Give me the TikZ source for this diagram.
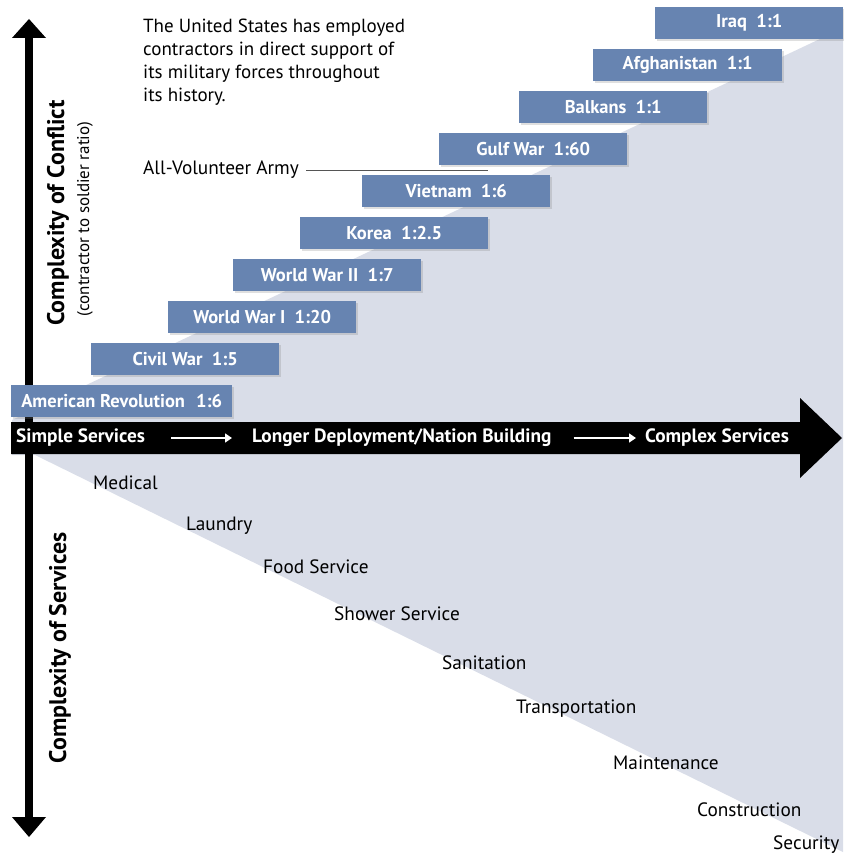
\documentclass[tikz,border=0pt]{standalone}
\usepackage{fontspec}
\setmainfont{PT Sans}
\usetikzlibrary{arrows.meta,shadows}
\definecolor{eraBlue}{HTML}{6784B1}
\definecolor{bgShade}{HTML}{D9DDE8}
\definecolor{leaderGray}{HTML}{555555}

\begin{document}
\begin{tikzpicture}[x=1pt,y=-1pt,
  era/.style={fill=eraBlue, text=white, anchor=north west,
    font=\fontsize{18.5}{20}\selectfont\bfseries,
    minimum height=32pt, minimum width=188pt, inner sep=0pt,
    drop shadow={shadow xshift=1.5pt, shadow yshift=-1.5pt, opacity=0.25}},
  bandtext/.style={text=white, font=\fontsize{19.3}{22}\selectfont\bfseries, inner sep=0pt},
  service/.style={anchor=west, inner sep=0pt, font=\fontsize{19.3}{22}\selectfont},
  axislabel/.style={rotate=90, inner sep=0pt, font=\fontsize{24}{27}\selectfont\bfseries},
  flow/.style={draw=white, line width=1.6pt, -{Triangle[length=7pt,width=9pt]}}
]
% canvas
\useasboundingbox (0,0) rectangle (843,858);

% shaded field behind the timeline and the services
\fill[bgShade] (12,420) -- (822,38) -- (843,38) -- (843,852) -- (35,455) -- (12,455) -- cycle;

% vertical axis with heads at both ends
\coordinate (vtop) at (29,19);
\coordinate (vbot) at (29,837);
\fill (29,36) ++(-3.6,0) rectangle (32.6,820);
\fill (vtop) -- (46,38) -- (12,38) -- cycle;
\fill (vbot) -- (46,817) -- (12,817) -- cycle;

% conflicts, ratio of contractors to soldiers
\node[era, minimum width=221pt] (amrev) at (11,385) {American Revolution\hspace{0.6em}1:6};
\node[era] (civil) at (91,343) {Civil War\hspace{0.5em}1:5};
\node[era] (ww1) at (168,301) {World War I\hspace{0.5em}1:20};
\node[era] (ww2) at (233,259) {World War II\hspace{0.5em}1:7};
\node[era] (korea) at (300,217) {Korea\hspace{0.5em}1:2.5};
\node[era] (viet) at (362,175) {Vietnam\hspace{0.5em}1:6};
\node[era] (gulf) at (439,133) {Gulf War\hspace{0.5em}1:60};
\node[era] (balk) at (519,91) {Balkans\hspace{0.5em}1:1};
\node[era, minimum width=189pt] (afg) at (593,49) {Afghanistan\hspace{0.5em}1:1};
\node[era] (iraq) at (655,7) {Iraq\hspace{0.5em}1:1};

% horizontal band arrow
\fill (11,422) -- (800,422) -- (800,398) -- (842,438) -- (800,478) -- (800,454) -- (11,454) -- cycle;
\node[bandtext, anchor=west] (simple) at (16,438) {Simple Services};
\node[bandtext, anchor=west] (longer) at (252,438) {Longer Deployment/Nation Building};
\node[bandtext, anchor=west] (complex) at (645,438) {Complex Services};
\draw[flow, shorten <=26pt, shorten >=20pt] (simple.east) -- (longer.west);
\draw[flow, shorten <=22pt, shorten >=9pt] (longer.east) -- (complex.west);

% note
\node[anchor=north west, align=left, inner sep=0pt, font=\fontsize{19}{23}\selectfont] (note) at (143,19)
  {The United States has employed\\contractors in direct support of\\its military forces throughout\\its history.};

% all-volunteer army marker
\node[service] (ava) at (143,170) {All-Volunteer Army};
\coordinate (avaEnd) at (488,170);
\draw[leaderGray, line width=0.8pt, shorten <=7pt] (ava.east) -- (avaEnd);

% axis titles
\node[axislabel] (conflict) at (58,213) {Complexity of Conflict};
\node[rotate=90, inner sep=0pt, font=\fontsize{17}{19}\selectfont] (ratio) at (85,219) {(contractor to soldier ratio)};
\node[axislabel] (services) at (60,648) {Complexity of Services};

% services, simplest to most complex
\node[service] (medical) at (93,483) {Medical};
\node[service] (laundry) at (186,526) {Laundry};
\node[service] (food) at (263,567) {Food Service};
\node[service] (shower) at (334,614) {Shower Service};
\node[service] (sanit) at (442,663) {Sanitation};
\node[service] (transp) at (516,709) {Transportation};
\node[service] (maint) at (613,763) {Maintenance};
\node[service] (constr) at (697,810) {Construction};
\node[service] (secur) at (773,845) {Security};
\end{tikzpicture}
\end{document}
